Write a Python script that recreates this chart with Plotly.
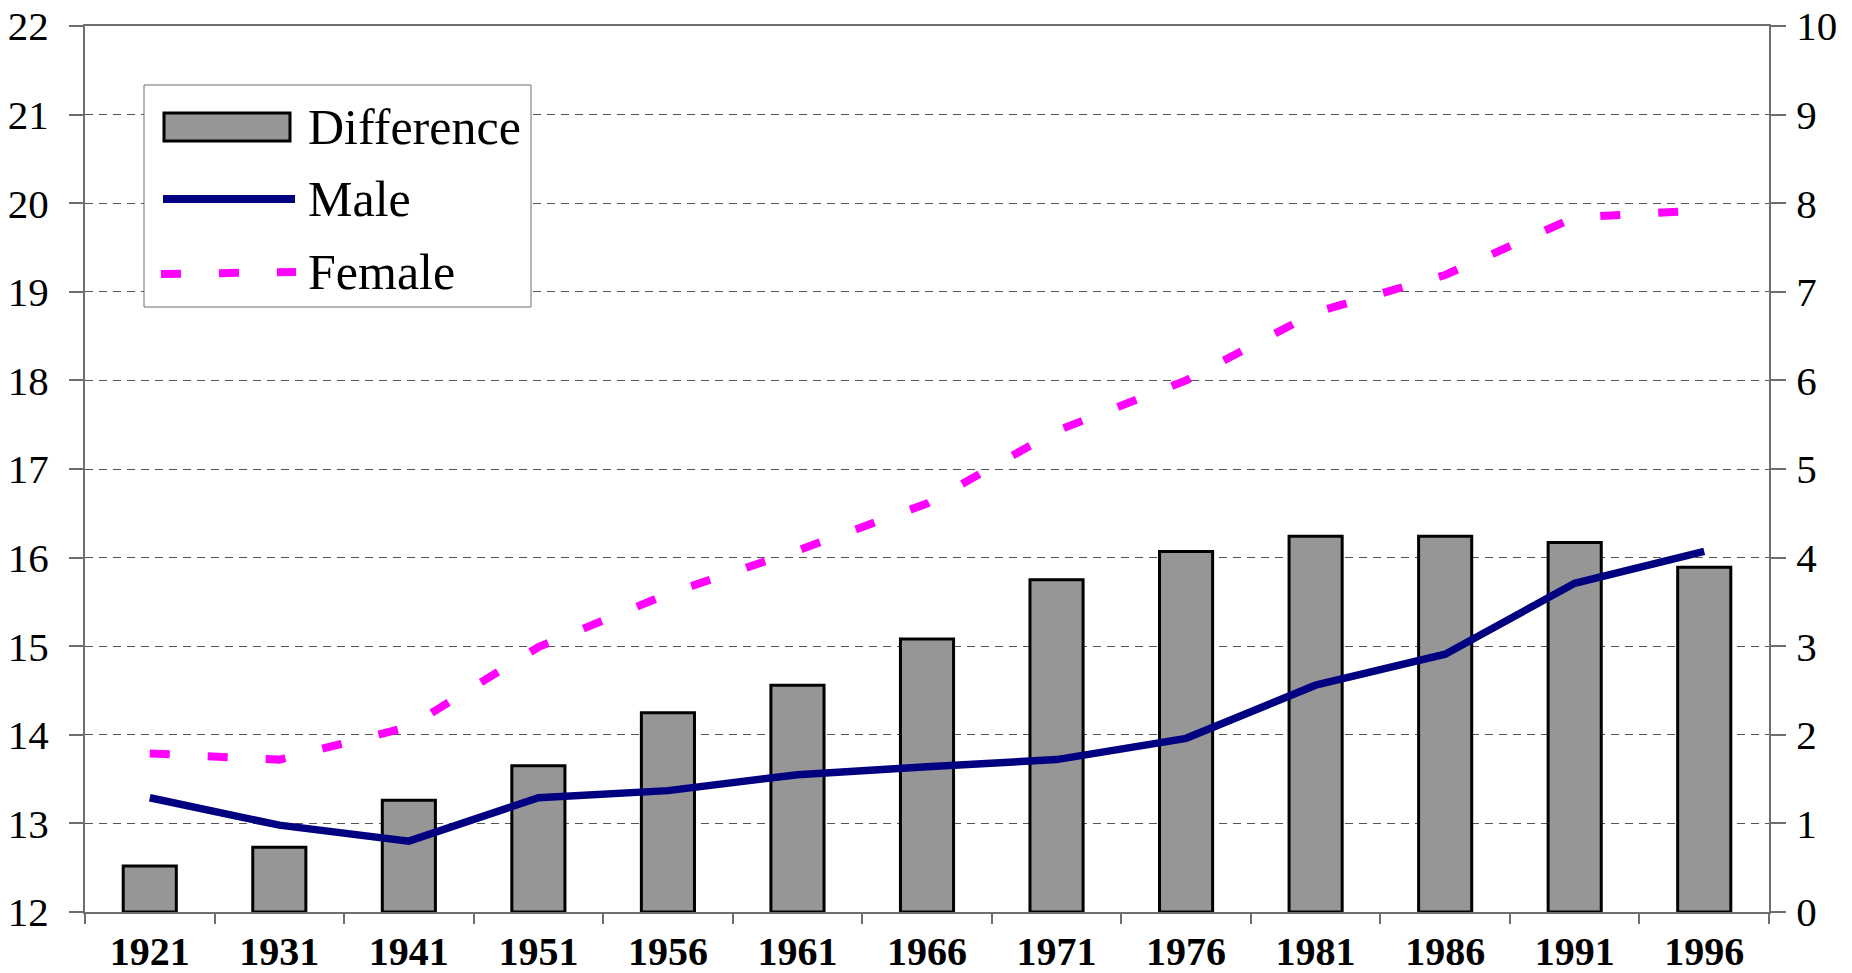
import plotly.graph_objects as go

# values
years = ['1921', '1931', '1941', '1951', '1956', '1961', '1966',
         '1971', '1976', '1981', '1986', '1991', '1996']
male = [13.29, 12.98, 12.80, 13.29, 13.37, 13.55, 13.64,
        13.72, 13.96, 14.56, 14.91, 15.71, 16.07]
female = [13.79, 13.72, 14.09, 14.99, 15.59, 16.08, 16.61,
          17.43, 18.00, 18.77, 19.19, 19.84, 19.92]
difference = [0.52, 0.73, 1.26, 1.65, 2.25, 2.56, 3.08,
              3.75, 4.07, 4.24, 4.24, 4.17, 3.89]
left_ticks = list(range(12, 23))
right_ticks = list(range(0, 11))
legend_names = ['Difference', 'Male', 'Female']

FONT = 'Liberation Serif'
AXIS_COL = '#6e6e6e'
BAR_COL = '#969696'
MALE_COL = '#000080'
FEMALE_COL = '#ff00ff'
FEMALE_DASH = '20px,38px'

W, H = 1852, 973
M_L, M_R, M_T, M_B = 85, 83, 26, 61
PW, PH = W - M_L - M_R, H - M_T - M_B


# pixel position on the page -> paper coordinates (legend drawing only)
def px(x):
    return (x - M_L) / PW


def py(y):
    return (H - M_B - y) / PH


fig = go.Figure()

# bars on the right hand axis (0-10)
fig.add_trace(go.Bar(
    x=years, y=difference, name=legend_names[0],
    marker=dict(color=BAR_COL, line=dict(color='black', width=3)),
    yaxis='y'))

# lines on the left hand axis (12-22), overlaid so they sit above the bars
fig.add_trace(go.Scatter(
    x=years, y=male, name=legend_names[1], mode='lines',
    line=dict(color=MALE_COL, width=7.5),
    yaxis='y2'))
fig.add_trace(go.Scatter(
    x=years, y=female, name=legend_names[2], mode='lines',
    line=dict(color=FEMALE_COL, width=8, dash=FEMALE_DASH),
    yaxis='y2'))

# Excel style legend box with wide swatches
shapes = [
    dict(type='rect', xref='paper', yref='paper',
         x0=px(144), x1=px(531), y0=py(307), y1=py(85),
         line=dict(color=AXIS_COL, width=1), fillcolor='white', layer='above'),
    dict(type='rect', xref='paper', yref='paper',
         x0=px(164), x1=px(290), y0=py(141), y1=py(113),
         line=dict(color='black', width=3), fillcolor=BAR_COL, layer='above'),
    dict(type='line', xref='paper', yref='paper',
         x0=px(163), x1=px(295), y0=py(199), y1=py(199),
         line=dict(color=MALE_COL, width=8), layer='above'),
    dict(type='line', xref='paper', yref='paper',
         x0=px(161), x1=px(296), y0=py(274), y1=py(272),
         line=dict(color=FEMALE_COL, width=8, dash=FEMALE_DASH), layer='above'),
]
annotations = []
for name, yc in zip(legend_names, [127, 199, 272]):
    annotations.append(dict(
        text=name, xref='paper', yref='paper', x=px(306), y=py(yc),
        xanchor='left', yanchor='middle', showarrow=False,
        font=dict(family=FONT, size=50, color='black')))

fig.update_layout(
    width=W, height=H,
    margin=dict(l=M_L, r=M_R, t=M_T, b=M_B, autoexpand=False),
    plot_bgcolor='white', paper_bgcolor='white',
    font=dict(family=FONT, color='black', size=40),
    bargap=0.59,
    showlegend=False,
    shapes=shapes,
    annotations=annotations,
    xaxis=dict(
        type='category', tickson='boundaries', automargin=False,
        ticks='outside', ticklen=10, tickwidth=1.5, tickcolor=AXIS_COL,
        ticklabelstandoff=3,
        showline=True, linecolor=AXIS_COL, linewidth=2, mirror=True,
        tickfont=dict(family=FONT, size=40, color='black', weight='bold'),
        showgrid=False),
    yaxis=dict(
        side='right', range=[0, 10], tickvals=right_ticks, automargin=False,
        ticks='outside', ticklen=15, tickwidth=1.5, tickcolor=AXIS_COL,
        ticklabelstandoff=2,
        showline=True, linecolor=AXIS_COL, linewidth=2,
        showgrid=True, gridcolor='#555555', gridwidth=1, griddash='8px,6px',
        zeroline=False, tickfont=dict(family=FONT, size=41, color='black')),
    yaxis2=dict(
        side='left', overlaying='y', range=[12, 22], tickvals=left_ticks,
        automargin=False,
        ticks='outside', ticklen=14, tickwidth=1.5, tickcolor=AXIS_COL,
        ticklabelstandoff=12,
        showline=True, linecolor=AXIS_COL, linewidth=2,
        showgrid=False, zeroline=False,
        tickfont=dict(family=FONT, size=41, color='black')),
)

# drop the default page margin so the figure sits at the top-left corner
fig.write_html("out.html", config={'displayModeBar': False},
               post_script="document.body.style.margin='0';")
